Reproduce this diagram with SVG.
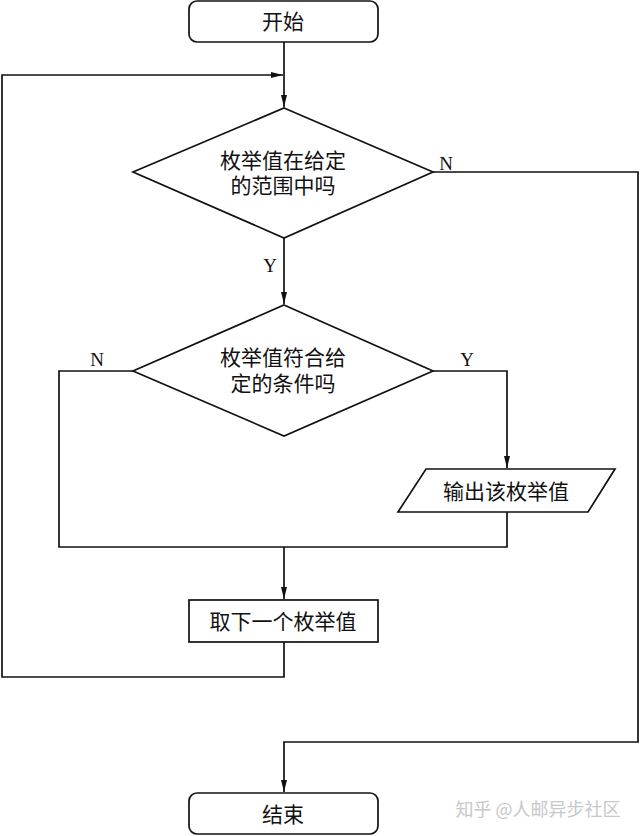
<svg xmlns="http://www.w3.org/2000/svg" width="640" height="836" viewBox="0 0 640 836">
<defs>
<marker id="arr" viewBox="0 0 12 6" refX="12" refY="3" markerWidth="12" markerHeight="6" markerUnits="userSpaceOnUse" orient="auto">
<path d="M0,0 L12,3 L0,6 Z" fill="#111"/>
</marker>
</defs>
<style>
.shape{fill:#fff;stroke:#111;stroke-width:1.7}
.line{fill:none;stroke:#111;stroke-width:1.7}
.t{font-family:"Liberation Serif","Noto Sans CJK SC",serif;font-size:21px;fill:#111;text-anchor:middle}
.lbl{font-family:"Liberation Serif",serif;font-size:19px;fill:#111;text-anchor:middle}
.wm{font-family:"Noto Sans CJK SC",sans-serif;font-size:18px;fill:#c8c8c8;text-anchor:middle}
</style>
<rect width="640" height="836" fill="#fff"/>
<g id="connectors">
<path class="line" d="M284,42 V107" marker-end="url(#arr)"/>
<path class="line" d="M284,642 V677 H2 V75 H283" marker-end="url(#arr)"/>
<path class="line" d="M284,238 V304" marker-end="url(#arr)"/>
<path class="line" d="M433,172 H638 V742 H284 V792" marker-end="url(#arr)"/>
<path class="line" d="M433,371 H507 V468" marker-end="url(#arr)"/>
<path class="line" d="M133,371 H59 V547 H507 V512"/>
<path class="line" d="M284,547 V599" marker-end="url(#arr)"/>
<text class="lbl" x="446" y="170">N</text>
<text class="lbl" x="270" y="272">Y</text>
<text class="lbl" x="97" y="366">N</text>
<text class="lbl" x="467" y="366">Y</text>
</g>
<g id="start">
<rect class="shape" x="189" y="1" width="189" height="41" rx="8"/>
<text class="t" x="283" y="29">开始</text>
</g>
<g id="cond1">
<polygon class="shape" points="284,108 433,172 284,238 133,172"/>
<text class="t" x="283" y="168">枚举值在给定</text>
<text class="t" x="283" y="193">的范围中吗</text>
</g>
<g id="cond2">
<polygon class="shape" points="284,305 433,371 284,436 133,371"/>
<text class="t" x="283" y="365">枚举值符合给</text>
<text class="t" x="283" y="391">定的条件吗</text>
</g>
<g id="output">
<polygon class="shape" points="426,469 615,469 588,512 398,512"/>
<text class="t" x="506" y="499">输出该枚举值</text>
</g>
<g id="next">
<rect class="shape" x="189" y="600" width="189" height="42"/>
<text class="t" x="283" y="629">取下一个枚举值</text>
</g>
<g id="end">
<rect class="shape" x="189" y="793" width="189" height="41" rx="8"/>
<text class="t" x="283" y="822">结束</text>
</g>
<text class="wm" x="538" y="816">知乎 @人邮异步社区</text>
</svg>
